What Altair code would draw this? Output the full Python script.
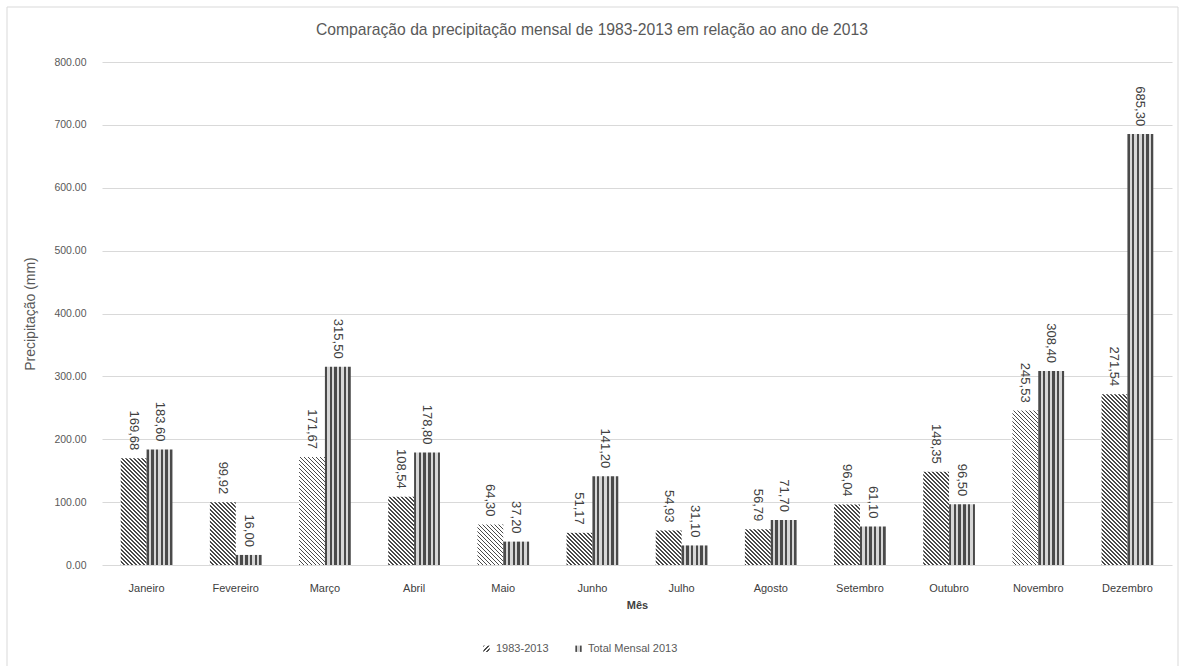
import altair as alt
import pandas as pd

months = ["Janeiro", "Fevereiro", "Março", "Abril", "Maio", "Junho",
          "Julho", "Agosto", "Setembro", "Outubro", "Novembro", "Dezembro"]
series = ["1983-2013", "Total Mensal 2013"]
hist = [169.68, 99.92, 171.67, 108.54, 64.30, 51.17, 54.93, 56.79, 96.04, 148.35, 245.53, 271.54]
total2013 = [183.60, 16.00, 315.50, 178.80, 37.20, 141.20, 31.10, 71.70, 61.10, 96.50, 308.40, 685.30]
y_ticks = [0, 100, 200, 300, 400, 500, 600, 700, 800]

rows = []
for m, a, b in zip(months, hist, total2013):
    rows.append({"mes": m, "serie": series[0], "valor": a})
    rows.append({"mes": m, "serie": series[1], "valor": b})
df = pd.DataFrame(rows)

# ---- layout ----
W, H = 1070, 503
PAD_IN = 0.42
step = W / 12
BW = step * (1 - PAD_IN) / 2          # width of one bar in px
K = H / 800                            # px per mm
L = 460                                # gradient span (px of y - x)

DARK_D = "#4a4a4a"
LIGHT_D = "#ffffff"
DARK_V = "#4a4a4a"
LIGHT_V = "#d6d6d6"


def stops_str(stops):
    return "[" + ",".join("{offset:%.5f,color:'%s'}" % (o, c) for o, c in stops) + "]"


# diagonal hatch stops, period 4px
P = 4.0 / L
diag_stops = []
i = 0
while (i + 1) * P <= 1.0:
    a = i * P
    diag_stops += [(a, DARK_D), (a + 0.4 * P, DARK_D), (a + 0.4 * P, LIGHT_D), (a + P, LIGHT_D)]
    i += 1
diag_stops.append((1.0, LIGHT_D))

# vertical stripes: 6 dark, 5 light
vert_stops = []
d = 1 / 11
for j in range(11):
    c = DARK_V if j % 2 == 0 else LIGHT_V
    vert_stops += [(j * d, c), ((j + 1) * d, c)]

hgt = "(datum.valor*%.6f)" % K
S = "(%.4f+pow(%s,2))" % (BW * BW, hgt)
diag_expr = ("{gradient:'linear',x1:1,y1:0,x2:1-%.4f*%d/%s,y2:%s*%d/%s,stops:%s}"
             % (BW, L, S, hgt, L, S, stops_str(diag_stops)))
vert_expr = "{gradient:'linear',x1:0,y1:0,x2:1,y2:0,stops:%s}" % stops_str(vert_stops)
grad_expr = "datum.serie=='%s' ? (%s) : (%s)" % (series[0], diag_expr, vert_expr)

# legend swatches
leg_diag_stops = []
Pl = 1 / 3
for j in range(3):
    a = j * Pl
    leg_diag_stops += [(a, DARK_D), (a + 0.45 * Pl, DARK_D), (a + 0.45 * Pl, LIGHT_D), (a + Pl, LIGHT_D)]
leg_diag = "{gradient:'linear',x1:0,y1:0,x2:1,y2:1,stops:%s}" % stops_str(leg_diag_stops)
leg_vert = "{gradient:'linear',x1:0,y1:0,x2:1,y2:0,stops:%s}" % stops_str(
    [(0, DARK_V), (0.3, DARK_V), (0.3, LIGHT_V), (0.7, LIGHT_V), (0.7, DARK_V), (1, DARK_V)])

FONT = "Liberation Sans"

x_enc = alt.X("mes:N", sort=months,
              scale=alt.Scale(paddingInner=PAD_IN, paddingOuter=PAD_IN / 2),
              axis=alt.Axis(title="Mês", labelAngle=0, domain=False, ticks=False,
                            labelPadding=17, labelFontSize=11, labelColor="#404040",
                            labelFont=FONT, titleFont=FONT, titleFontSize=11,
                            titleFontWeight="bold", titleColor="#404040", titlePadding=6))
xoff = alt.XOffset("serie:N", sort=series, scale=alt.Scale(paddingInner=0, paddingOuter=0))
y_enc = alt.Y("valor:Q", scale=alt.Scale(domain=[0, 800], nice=False),
              axis=alt.Axis(title="Precipitação (mm)", values=y_ticks, format=".2f",
                            domain=False, ticks=False, labelPadding=16, labelFontSize=10.5,
                            labelColor="#595959", labelFont=FONT, grid=True,
                            gridColor="#d9d9d9", gridWidth=1, titleFont=FONT,
                            titleFontSize=14, titleFontWeight="normal", titleColor="#595959",
                            titleX=-72, titleY=H / 2, titleAngle=270, titleAlign="center",
                            titleBaseline="middle"))

base = alt.Chart(df)

frame = alt.Chart(pd.DataFrame({"k": [0]})).mark_rect(
    fillOpacity=0, stroke="#d9d9d9", strokeWidth=1
).encode(x=alt.value(7 - 102), x2=alt.value(1178 - 102), y=alt.value(7 - 62), y2=alt.value(700))

bars = base.transform_calculate(grad=grad_expr).mark_bar(strokeWidth=0).encode(
    x=x_enc, xOffset=xoff, y=y_enc,
    fill=alt.Fill("grad:N", scale=None),
)

labels = base.transform_calculate(
    lbl="replace(format(datum.valor, '.2f'), '.', ',')"
).mark_text(angle=90, align="right", baseline="middle", dx=-8, fontSize=13,
            font=FONT, color="#404040").encode(
    x=alt.X("mes:N", sort=months), xOffset=alt.XOffset("serie:N", sort=series),
    y="valor:Q", text="lbl:N",
)

legend_layer = base.transform_filter("false").mark_square().encode(
    fill=alt.Fill("serie:N",
                  scale=alt.Scale(domain=series, range=[alt.ExprRef(leg_diag), alt.ExprRef(leg_vert)]),
                  legend=alt.Legend(title=None, orient="none", direction="horizontal",
                                    legendX=379, legendY=581, symbolType="square",
                                    symbolSize=40, symbolStrokeWidth=0, symbolOpacity=1,
                                    labelFontSize=11, labelColor="#595959", labelFont=FONT,
                                    columnPadding=24, labelOffset=4)),
)

chart = alt.layer(frame, bars, labels, legend_layer).resolve_scale(fill="independent").properties(
    width=W, height=H,
    padding={"left": 102, "top": 62, "right": 14, "bottom": 101},
    autosize="none",
    background="white",
    title=alt.Title("Comparação da precipitação mensal de 1983-2013  em relação ao ano de  2013",
                    fontSize=15.7, font=FONT, fontWeight="normal", color="#595959",
                    anchor="middle", offset=-32, dx=-45),
).configure_view(stroke=None)

chart.save("out.html", embed_options={"renderer": "svg", "actions": False})
